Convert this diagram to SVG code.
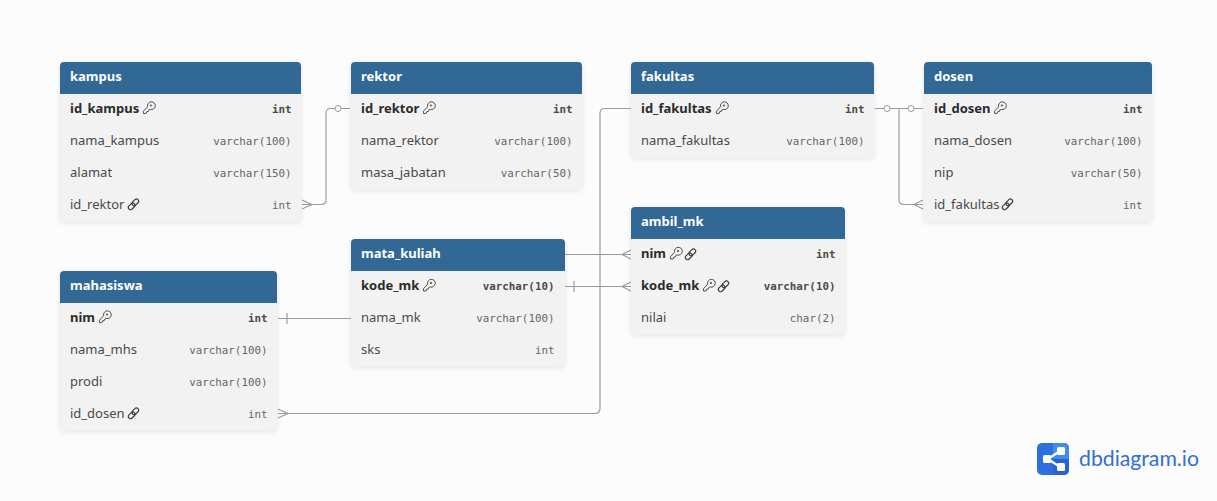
<svg xmlns="http://www.w3.org/2000/svg" width="1217" height="501" viewBox="0 0 1217 501">
<style>
.body{fill:#f2f2f2}
.hd{fill:#316896}
.title{font:700 13px "Noto Sans",sans-serif;fill:#fff}
.n{font:400 13px "Noto Sans",sans-serif;fill:#4a4a4a}
.pk{font:700 13px "Noto Sans",sans-serif;fill:#2b2b2b}
.t{font:400 10.85px "DejaVu Sans Mono",monospace;fill:#666;text-anchor:end}
.tb{font:700 10.85px "DejaVu Sans Mono",monospace;fill:#4a4a4a;text-anchor:end}
.c{fill:none;stroke:#9a9aa6;stroke-width:1.2}
.ci{fill:#fafafa;stroke:#9a9aa6;stroke-width:1}
.ic{fill:none;stroke:#3d3d3d;stroke-width:.9}
.ic2{fill:none;stroke:#3d3d3d;stroke-width:1.15}
</style>
<defs>
<filter id="sh" x="-10%" y="-10%" width="120%" height="120%"><feDropShadow dx="0" dy="1" stdDeviation="2.5" flood-color="#000" flood-opacity="0.10"/></filter>
<g id="key"><path class="ic" d="M4.600 -1.800A3.900 3.900 0 1 1 7.300 1.000L5.900 1.400L5.400 2.900L3.800 3.100L3.400 4.700L.7 5.200L.4 2.800Z"/><circle cx="8" cy="-3" r=".7" class="ic"/></g>
<g id="link"><rect x="-3.800" y="-2.200" width="7.600" height="4.400" rx="2.200" class="ic2" transform="translate(3.700 2.300) rotate(-45)"/><rect x="-3.800" y="-2.200" width="7.600" height="4.400" rx="2.200" class="ic2" transform="translate(7.300 -1.700) rotate(-45)"/></g>
</defs>
<rect width="1217" height="501" fill="#fcfcfc"/>

<g id="connectors">
<path class="c" d="M302 204.500H321Q326 204.500 326 199.500V113.500Q326 108.500 331 108.500H350"/>
<path class="c" d="M302 200L312 204.500L302 209"/>
<circle class="ci" cx="338" cy="108.500" r="3"/>
<path class="c" d="M875 108.500H923"/>
<path class="c" d="M899 108.500V199.500Q899 204.500 904 204.500H923"/>
<path class="c" d="M923 200L914 204.500L923 209"/>
<circle class="ci" cx="887" cy="108.500" r="3"/>
<circle class="ci" cx="911" cy="108.500" r="3"/>
<path class="c" d="M278 413.500H595Q600 413.500 600 408.500V113.500Q600 108.500 605 108.500H631"/>
<path class="c" d="M278 409L288 413.500L278 418"/>
<path class="c" d="M278 318.500H351"/>
<path class="c" d="M287 313V324"/>
<path class="c" d="M565 254.500H631"/>
<path class="c" d="M631 250L622 254.500L631 259"/>
<path class="c" d="M565 286.500H631"/>
<path class="c" d="M574 281V292"/>
<path class="c" d="M631 282L622 286.500L631 291"/>
</g>

<g id="kampus">
<rect x="60" y="62" width="241" height="160" rx="4" class="body" filter="url(#sh)"/>
<path class="hd" d="M60 94V66a4 4 0 0 1 4-4H297a4 4 0 0 1 4 4V94z"/>
<text x="70" y="81" class="title">kampus</text>
<text x="70" y="113" class="pk">id_kampus</text><use href="#key" x="143" y="108.500"/><text x="291.500" y="113" class="tb">int</text>
<text x="70" y="145" class="n">nama_kampus</text><text x="291.500" y="145" class="t">varchar(100)</text>
<text x="70" y="177" class="n">alamat</text><text x="291.500" y="177" class="t">varchar(150)</text>
<text x="70" y="209" class="n">id_rektor</text><use href="#link" x="128" y="204"/><text x="291.500" y="209" class="t">int</text>
</g>

<g id="rektor">
<rect x="351" y="62" width="231" height="128" rx="4" class="body" filter="url(#sh)"/>
<path class="hd" d="M351 94V66a4 4 0 0 1 4-4H578a4 4 0 0 1 4 4V94z"/>
<text x="361" y="81" class="title">rektor</text>
<text x="361" y="113" class="pk">id_rektor</text><use href="#key" x="423" y="108.500"/><text x="572.500" y="113" class="tb">int</text>
<text x="361" y="145" class="n">nama_rektor</text><text x="572.500" y="145" class="t">varchar(100)</text>
<text x="361" y="177" class="n">masa_jabatan</text><text x="572.500" y="177" class="t">varchar(50)</text>
</g>

<g id="fakultas">
<rect x="631" y="62" width="243" height="96" rx="4" class="body" filter="url(#sh)"/>
<path class="hd" d="M631 94V66a4 4 0 0 1 4-4H870a4 4 0 0 1 4 4V94z"/>
<text x="641" y="81" class="title">fakultas</text>
<text x="641" y="113" class="pk">id_fakultas</text><use href="#key" x="716" y="108.500"/><text x="864.500" y="113" class="tb">int</text>
<text x="641" y="145" class="n">nama_fakultas</text><text x="864.500" y="145" class="t">varchar(100)</text>
</g>

<g id="dosen">
<rect x="924" y="62" width="228" height="160" rx="4" class="body" filter="url(#sh)"/>
<path class="hd" d="M924 94V66a4 4 0 0 1 4-4H1148a4 4 0 0 1 4 4V94z"/>
<text x="934" y="81" class="title">dosen</text>
<text x="934" y="113" class="pk">id_dosen</text><use href="#key" x="994" y="108.500"/><text x="1142.500" y="113" class="tb">int</text>
<text x="934" y="145" class="n">nama_dosen</text><text x="1142.500" y="145" class="t">varchar(100)</text>
<text x="934" y="177" class="n">nip</text><text x="1142.500" y="177" class="t">varchar(50)</text>
<text x="934" y="209" class="n">id_fakultas</text><use href="#link" x="1002" y="204"/><text x="1142.500" y="209" class="t">int</text>
</g>

<g id="ambil_mk">
<rect x="631" y="207" width="214" height="128" rx="4" class="body" filter="url(#sh)"/>
<path class="hd" d="M631 239V211a4 4 0 0 1 4-4H841a4 4 0 0 1 4 4V239z"/>
<text x="641" y="226" class="title">ambil_mk</text>
<text x="641" y="258" class="pk">nim</text><use href="#key" x="670" y="254"/><use href="#link" x="685" y="254"/><text x="835.500" y="258" class="tb">int</text>
<text x="641" y="290" class="pk">kode_mk</text><use href="#key" x="703" y="286"/><use href="#link" x="718" y="286"/><text x="835.500" y="290" class="tb">varchar(10)</text>
<text x="641" y="322" class="n">nilai</text><text x="835.500" y="322" class="t">char(2)</text>
</g>

<g id="mata_kuliah">
<rect x="351" y="239" width="214" height="128" rx="4" class="body" filter="url(#sh)"/>
<path class="hd" d="M351 271V243a4 4 0 0 1 4-4H561a4 4 0 0 1 4 4V271z"/>
<text x="361" y="258" class="title">mata_kuliah</text>
<text x="361" y="290" class="pk">kode_mk</text><use href="#key" x="423" y="286"/><text x="554.500" y="290" class="tb">varchar(10)</text>
<text x="361" y="322" class="n">nama_mk</text><text x="554.500" y="322" class="t">varchar(100)</text>
<text x="361" y="354" class="n">sks</text><text x="554.500" y="354" class="t">int</text>
</g>

<g id="mahasiswa">
<rect x="60" y="271" width="217" height="160" rx="4" class="body" filter="url(#sh)"/>
<path class="hd" d="M60 303V275a4 4 0 0 1 4-4H273a4 4 0 0 1 4 4V303z"/>
<text x="70" y="290" class="title">mahasiswa</text>
<text x="70" y="322" class="pk">nim</text><use href="#key" x="99" y="317.500"/><text x="267.500" y="322" class="tb">int</text>
<text x="70" y="354" class="n">nama_mhs</text><text x="267.500" y="354" class="t">varchar(100)</text>
<text x="70" y="386" class="n">prodi</text><text x="267.500" y="386" class="t">varchar(100)</text>
<text x="70" y="418" class="n">id_dosen</text><use href="#link" x="128" y="413"/><text x="267.500" y="418" class="t">int</text>
</g>

<g id="logo">
<rect x="1037" y="443" width="32" height="32" rx="5" fill="#2d6fe0"/>
<path d="M1053 443h11a5 5 0 0 1 5 5v11h-16z" fill="#3f8bf0"/>
<path d="M1053 459h16v11a5 5 0 0 1-5 5h-11z" fill="#2a62cf"/>
<path d="M1048 459L1060 451M1048 459L1060 467" stroke="#fff" stroke-width="2.4" fill="none"/>
<rect x="1043" y="455" width="8" height="8" rx="1.500" fill="#fff"/>
<rect x="1057" y="447" width="8" height="8" rx="1.500" fill="#fff"/>
<rect x="1057" y="463" width="8" height="8" rx="1.500" fill="#fff"/>
<text x="1079" y="466" font-family="Lato,'Noto Sans',sans-serif" font-size="20.500" fill="#2f6fd6" textLength="120" lengthAdjust="spacingAndGlyphs">dbdiagram.io</text>
</g>
</svg>
